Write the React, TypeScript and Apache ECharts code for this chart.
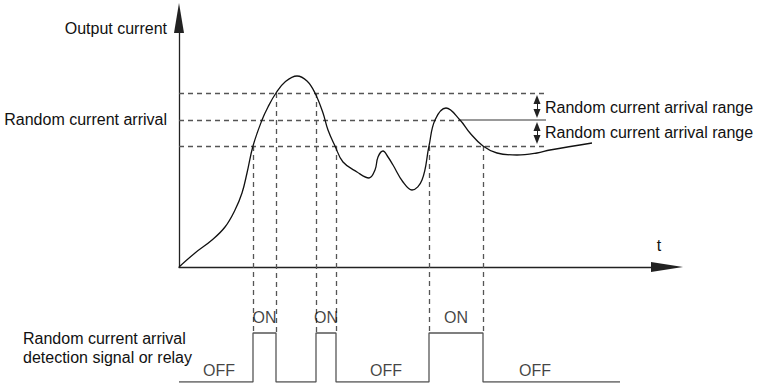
import React, { useEffect, useRef } from 'react';
import * as echarts from 'echarts';

// Output current curve: [time, current] (arbitrary units)
const currentCurve: [number, number][] = [
  [0, 0], [16, 14], [33, 27], [46, 40], [56, 57], [63, 74], [68, 94], [74, 121],
  [83, 147], [89, 160], [97, 174], [106, 185], [118, 191], [128, 186], [136, 174],
  [144, 154], [149, 137], [156, 121], [164, 105], [178, 95], [190, 89], [196, 97],
  [199, 110], [204, 116], [209, 110], [214, 102], [224, 85], [233, 77], [243, 87],
  [250, 121], [256, 147], [267, 159], [281, 147], [291, 134], [304, 121], [318, 114],
  [338, 112], [358, 114], [371, 117], [413, 124],
];

// Thresholds: lower limit, set value, upper limit
const thresholdLevels = [121, 147, 174];
const thresholdEnd = 367;
const setValueSolidStart = 281;
const rangeArrowTime = 358;

// Times where the curve crosses a limit and the relay switches (on, off pairs)
const switchTimes = [74, 97, 137, 157, 250, 304];
const switchLevels = [121, 174, 174, 121, 121, 121];

// Relay signal levels (drawn below the time axis)
const relayOn = -66;
const relayOff = -115;
const relayEnd = 441;
const offLabelTimes = [40, 207, 356];

const tMax = 488;
const iMax = 249;

const FONT = '"Liberation Sans", Arial, Helvetica, sans-serif';

export default function App() {
  const ref = useRef<HTMLDivElement>(null);

  useEffect(() => {
    if (!ref.current) return;
    const chart = echarts.init(ref.current, undefined, { renderer: 'svg' });

    const relayPath: [number, number][] = [[0, relayOff]];
    const onMids: [number, number][] = [];
    for (let k = 0; k < switchTimes.length; k += 2) {
      const on = switchTimes[k];
      const off = switchTimes[k + 1];
      relayPath.push([on, relayOff], [on, relayOn], [off, relayOn], [off, relayOff]);
      onMids.push([(on + off) / 2, relayOn]);
    }
    relayPath.push([relayEnd, relayOff]);

    const [lo, mid, hi] = thresholdLevels;
    const dashed: any[] = [
      [{ coord: [0, lo] }, { coord: [thresholdEnd, lo] }],
      [{ coord: [0, hi] }, { coord: [thresholdEnd, hi] }],
      [{ coord: [0, mid] }, { coord: [setValueSolidStart, mid] }],
    ];
    switchTimes.forEach((t, i) => {
      dashed.push([{ coord: [t, switchLevels[i]] }, { coord: [t, relayOn] }]);
    });

    const inset = 6.5;
    const arrows: any[] = [
      [{ coord: [rangeArrowTime, hi - inset] }, { coord: [rangeArrowTime, mid + inset] }],
      [{ coord: [rangeArrowTime, mid - inset] }, { coord: [rangeArrowTime, lo + inset] }],
    ];

    const axisBase = {
      type: 'value' as const,
      axisTick: { show: false },
      axisLabel: { show: false },
      splitLine: { show: false },
    };

    const txt = (text: string, x: number, y: number, align: string = 'left', size = 16) => ({
      type: 'text',
      x,
      y,
      style: {
        text,
        fill: '#111',
        font: `${size}px ${FONT}`,
        align,
        verticalAlign: 'middle',
      },
      silent: true,
    });

    chart.setOption({
      animation: false,
      backgroundColor: '#fff',
      textStyle: { fontFamily: FONT },
      grid: [
        { left: 179, top: 18, width: 488, height: 249, outerBoundsMode: 'none', containLabel: false },
        { left: 179, top: 18, width: 488, height: 364, outerBoundsMode: 'none', containLabel: false },
      ],
      xAxis: [
        {
          ...axisBase,
          gridIndex: 0,
          min: 0,
          max: tMax,
          axisLine: {
            show: true,
            onZero: false,
            symbol: ['none', 'triangle'],
            symbolSize: [10, 32],
            lineStyle: { color: '#222', width: 1.3 },
          },
        },
        { ...axisBase, gridIndex: 1, min: 0, max: tMax, show: false },
      ],
      yAxis: [
        {
          ...axisBase,
          gridIndex: 0,
          min: 0,
          max: iMax,
          axisLine: {
            show: true,
            onZero: false,
            symbol: ['none', 'triangle'],
            symbolSize: [10, 30],
            lineStyle: { color: '#222', width: 1.3 },
          },
        },
        { ...axisBase, gridIndex: 1, min: relayOff, max: iMax, show: false },
      ],
      series: [
        {
          type: 'line',
          name: 'guides',
          xAxisIndex: 1,
          yAxisIndex: 1,
          data: relayPath,
          showSymbol: false,
          lineStyle: { color: '#555', width: 1.3 },
          z: 3,
          markLine: {
            silent: true,
            symbol: 'none',
            label: { show: false },
            lineStyle: { type: [5, 4], color: '#555', width: 1.3 },
            emphasis: { disabled: true },
            data: dashed,
          },
        },
        {
          type: 'line',
          name: 'setValue',
          xAxisIndex: 1,
          yAxisIndex: 1,
          data: [[setValueSolidStart, mid], [thresholdEnd, mid]],
          showSymbol: false,
          lineStyle: { color: '#777', width: 1.5 },
          z: 3,
          markLine: {
            silent: true,
            symbol: ['triangle', 'triangle'],
            symbolSize: [7, 9],
            label: { show: false },
            lineStyle: { type: 'solid', color: '#222', width: 1 },
            itemStyle: { color: '#222' },
            emphasis: { disabled: true },
            data: arrows,
          },
        },
        {
          type: 'line',
          name: 'current',
          xAxisIndex: 1,
          yAxisIndex: 1,
          data: currentCurve,
          smooth: 0.4,
          showSymbol: false,
          lineStyle: { color: '#111', width: 1.3 },
          z: 5,
        },
        {
          type: 'scatter',
          name: 'on',
          xAxisIndex: 1,
          yAxisIndex: 1,
          data: onMids,
          symbolSize: 0,
          label: {
            show: true,
            formatter: 'ON',
            position: 'top',
            distance: 8,
            color: '#111',
            fontSize: 16,
            fontFamily: FONT,
          },
          z: 6,
        },
        {
          type: 'scatter',
          name: 'off',
          xAxisIndex: 1,
          yAxisIndex: 1,
          data: offLabelTimes.map((t) => [t, relayOff]),
          symbolSize: 0,
          label: {
            show: true,
            formatter: 'OFF',
            position: 'top',
            distance: 4,
            color: '#111',
            fontSize: 16,
            fontFamily: FONT,
          },
          z: 6,
        },
      ],
      graphic: [
        txt('Output current', 167, 28, 'right'),
        txt('Random current arrival', 167, 119, 'right'),
        txt('Random current arrival range', 545, 107, 'left'),
        txt('Random current arrival range', 545, 132, 'left'),
        txt('t', 659, 245, 'center'),
        txt('Random current arrival', 23, 338, 'left'),
        txt('detection signal or relay', 23, 357, 'left'),
      ],
    });

    return () => chart.dispose();
  }, []);

  return (
    <div
      ref={ref}
      style={{ position: 'fixed', left: 0, top: 0, width: 765, height: 385, background: '#fff' }}
    />
  );
}
